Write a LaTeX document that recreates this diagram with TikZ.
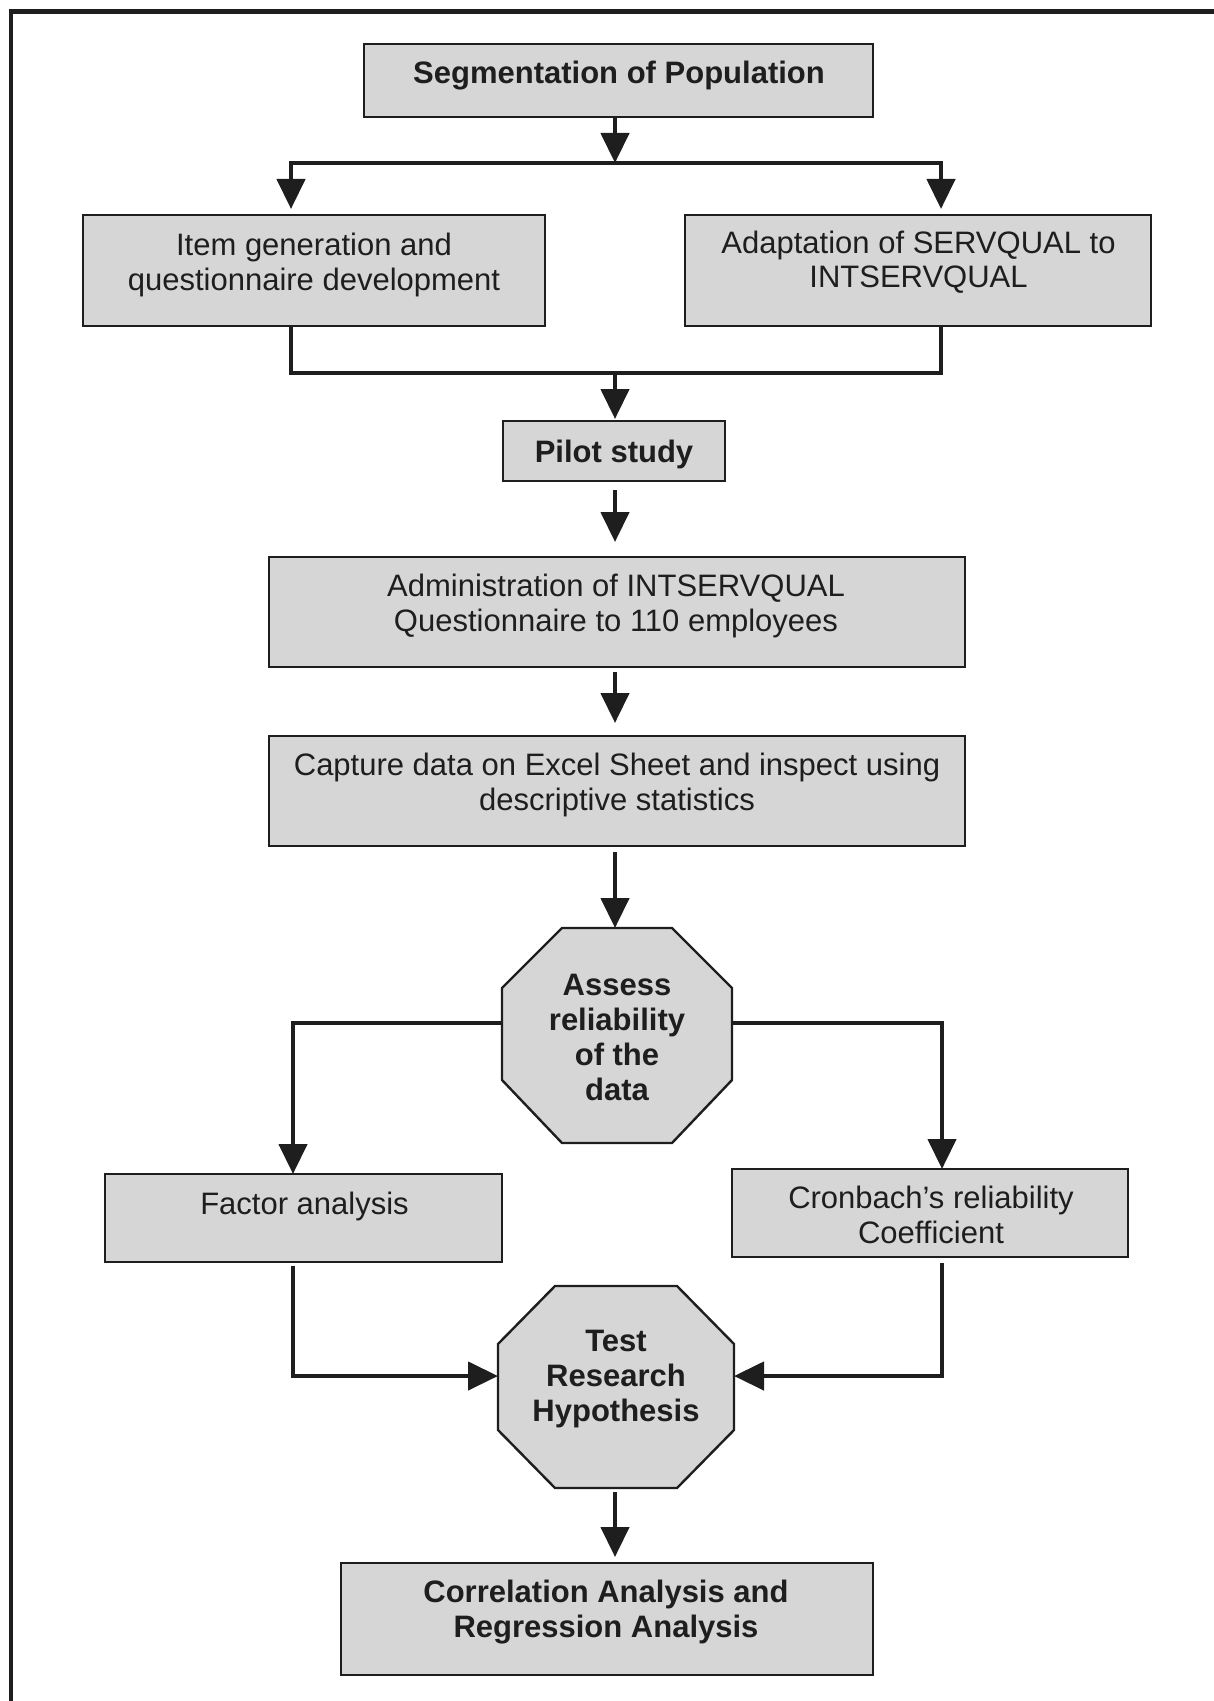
\documentclass[tikz,border=0pt]{standalone}
\usepackage{fontspec}
\setmainfont{Liberation Sans}
\usetikzlibrary{arrows.meta}
\definecolor{boxfill}{RGB}{214,214,214}
\definecolor{ink}{RGB}{30,30,30}
\begin{document}
\begin{tikzpicture}[x=0.5pt,y=-0.5pt,
  font=\fontsize{15.5pt}{17.25pt}\selectfont, text=ink,
  box/.style={draw=ink, line width=1.2pt, fill=boxfill, inner sep=0pt, outer sep=0pt},
  octframe/.style={draw=none, inner sep=0pt, outer sep=0pt},
  octa/.style={draw=ink, line width=1.2pt, fill=boxfill, line join=miter},
  txt/.style={align=center, inner sep=0pt},
  btxt/.style={txt, font=\fontsize{15.5pt}{17.5pt}\selectfont\bfseries},
  conn/.style={draw=ink, line width=2.2pt},
  arr/.style={conn, -{Triangle[length=15pt,width=14pt]}}]
\useasboundingbox (0,0) rectangle (1214,1701);
% frame
\draw[ink, line width=2.4pt] (11,1701) -- (11,11.5) -- (1214,11.5);

% boxes
\node[box, minimum width=254.5pt, minimum height=36.5pt] (seg) at (618.5,80.5) {};
\node[box, minimum width=231pt, minimum height=55.5pt] (item) at (314,270.5) {};
\node[box, minimum width=233pt, minimum height=55.5pt] (adapt) at (918,270.5) {};
\node[box, minimum width=111pt, minimum height=30pt] (pilot) at (614,451) {};
\node[box, minimum width=348pt, minimum height=55pt] (admin) at (617,612) {};
\node[box, minimum width=348pt, minimum height=55pt] (capt) at (617,791) {};
\node[box, minimum width=198.5pt, minimum height=44pt] (factor) at (303.5,1218) {};
\node[box, minimum width=198pt, minimum height=44pt] (cron) at (930,1213) {};
\node[box, minimum width=266pt, minimum height=56pt] (corr) at (607,1619) {};

% octagons
\node[octframe, minimum width=115pt, minimum height=107.5pt] (assess) at (617,1035.5) {};
\draw[octa] ([xshift=30pt]assess.north west) -- ([xshift=-30pt]assess.north east)
  -- ([yshift=-30pt]assess.north east) -- ([yshift=31.5pt]assess.south east)
  -- ([xshift=-30pt]assess.south east) -- ([xshift=30pt]assess.south west)
  -- ([yshift=31.5pt]assess.south west) -- ([yshift=-30pt]assess.north west) -- cycle;
\node[octframe, minimum width=118pt, minimum height=101pt] (test) at (616,1387) {};
\draw[octa] ([xshift=28.5pt]test.north west) -- ([xshift=-28.5pt]test.north east)
  -- ([yshift=-29pt]test.north east) -- ([yshift=29pt]test.south east)
  -- ([xshift=-28.5pt]test.south east) -- ([xshift=28.5pt]test.south west)
  -- ([yshift=29pt]test.south west) -- ([yshift=-29pt]test.north west) -- cycle;

% texts
\node[btxt] (segT) at (619,76) {Segmentation of Population};
\node[txt] (itemT) at (314,265) {Item generation and\\questionnaire development};
\node[txt] (adaptT) at (918.5,262) {Adaptation of SERVQUAL to\\INTSERVQUAL};
\node[btxt] (pilotT) at (614,454) {Pilot study};
\node[txt] (adminT) at (616,606) {Administration of INTSERVQUAL\\Questionnaire to 110 employees};
\node[txt] (captT) at (617,785) {Capture data on Excel Sheet and inspect using\\descriptive statistics};
\node[btxt] (assessT) at (617,1037.5) {Assess\\reliability\\of the\\data};
\node[txt] (factT) at (304.5,1206) {Factor analysis};
\node[txt] (cronT) at (931,1215) {Cronbach’s reliability\\Coefficient};
\node[btxt] (testT) at (616,1379) {Test\\Research\\Hypothesis};
\node[btxt] (corrT) at (606,1612) {Correlation Analysis and\\Regression Analysis};

% connectors
\coordinate (jtop) at (615,163);
\coordinate (jL) at (291,163);
\coordinate (jR) at (941,163);
\coordinate (jbot) at (615,373);
\coordinate (bL) at (293,1023);
\coordinate (bR) at (942,1023);
\coordinate (mL) at (293,1376);
\coordinate (mR) at (942,1376);

\draw[arr] (seg.south -| jtop) -- (jtop);
\draw[arr, shorten >=3pt] (jtop) -| (jL |- item.north);
\draw[arr, shorten >=3pt] (jtop) -| (jR |- adapt.north);
\draw[conn] (jL |- item.south) |- (jbot) -| (jR |- adapt.south);
\draw[arr, shorten >=1pt] (jbot) -- (pilot.north -| jbot);
\draw[arr, shorten <=4.5pt, shorten >=7.5pt] (pilot.south -| jbot) -- (admin.north -| jbot);
\draw[arr, shorten <=2.5pt, shorten >=6.5pt] (admin.south -| jbot) -- (capt.north -| jbot);
\draw[arr, shorten <=3pt] (capt.south -| jbot) -- (assess.north -| jbot);
\draw[arr] (assess.west |- bL) -| (bL |- factor.north);
\draw[arr] (assess.east |- bR) -| (bR |- cron.north);
\draw[arr, shorten <=2pt] (bL |- factor.south) |- (test.west |- mL);
\draw[arr, shorten <=3pt] (bR |- cron.south) |- (test.east |- mR);
\draw[arr, shorten <=2pt, shorten >=3pt] (test.south -| jbot) -- (corr.north -| jbot);
\end{tikzpicture}
\end{document}
